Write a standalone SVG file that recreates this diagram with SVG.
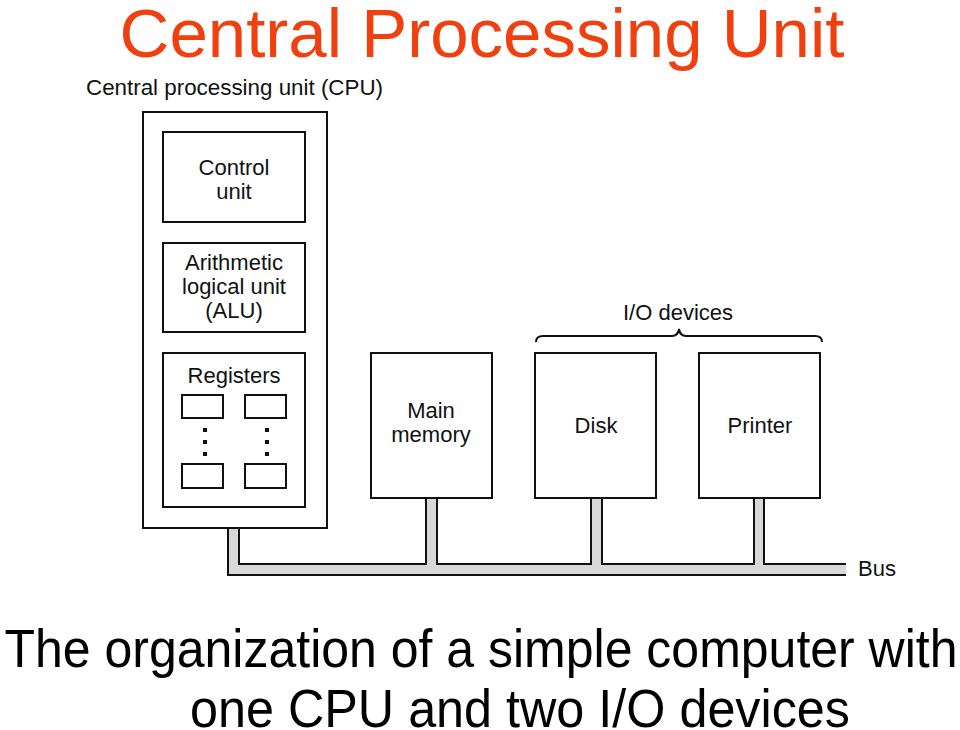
<svg xmlns="http://www.w3.org/2000/svg" width="960" height="730" viewBox="0 0 960 730">
<style>
.box{fill:#fff;stroke:#111;stroke-width:2}
.t{font-family:"Liberation Sans",Arial,sans-serif;fill:#111;font-size:22px;text-anchor:middle}
.ln{fill:none;stroke:#111;stroke-width:2}
.dot{fill:#111}
</style>
<rect width="960" height="730" fill="#fff"/>
<text x="482" y="57" style="font-family:'Liberation Sans',Arial,sans-serif;font-size:69px;fill:#f0400f;text-anchor:middle">Central Processing Unit</text>
<text x="86" y="95" class="t" style="text-anchor:start" textLength="297" lengthAdjust="spacingAndGlyphs">Central processing unit (CPU)</text>

<g id="connectors">
<path d="M228,527 L228,575 L846,575 L846,564 L764,564 L764,498 L754,498 L754,564 L602,564 L602,498 L591,498 L591,564 L437,564 L437,498 L426,498 L426,564 L239,564 L239,527 Z" fill="#d8d8d8"/>
<path class="ln" d="M228,528 L228,575 L846,575"/>
<path class="ln" d="M239,528 L239,564 L426,564 L426,498"/>
<path class="ln" d="M437,498 L437,564 L591,564 L591,498"/>
<path class="ln" d="M602,498 L602,564 L754,564 L754,498"/>
<path class="ln" d="M764,498 L764,564 L846,564"/>
</g>
<text x="858" y="576" class="t" style="text-anchor:start">Bus</text>

<g id="cpu">
<rect class="box" x="143" y="112" width="184" height="416"/>
</g>
<g id="control-unit">
<rect class="box" x="163" y="132" width="142" height="90"/>
<text x="234" y="175" class="t">Control</text>
<text x="234" y="199" class="t">unit</text>
</g>
<g id="alu">
<rect class="box" x="163" y="243" width="142" height="89"/>
<text x="234" y="270" class="t">Arithmetic</text>
<text x="234" y="294" class="t">logical unit</text>
<text x="234" y="318" class="t">(ALU)</text>
</g>
<g id="registers">
<rect class="box" x="163" y="353" width="142" height="154"/>
<text x="234" y="383" class="t">Registers</text>
<rect class="box" x="182" y="395" width="41" height="23"/>
<rect class="box" x="245" y="395" width="41" height="23"/>
<rect class="box" x="182" y="464" width="41" height="24"/>
<rect class="box" x="245" y="464" width="41" height="24"/>
<rect class="dot" x="203" y="428" width="4" height="4"/>
<rect class="dot" x="203" y="440" width="4" height="4"/>
<rect class="dot" x="203" y="452" width="4" height="4"/>
<rect class="dot" x="265" y="428" width="4" height="4"/>
<rect class="dot" x="265" y="440" width="4" height="4"/>
<rect class="dot" x="265" y="452" width="4" height="4"/>
</g>
<g id="main-memory">
<rect class="box" x="371" y="353" width="121" height="145"/>
<text x="431" y="418" class="t">Main</text>
<text x="431" y="442" class="t">memory</text>
</g>
<g id="disk">
<rect class="box" x="535" y="353" width="121" height="145"/>
<text x="596" y="433" class="t">Disk</text>
</g>
<g id="printer">
<rect class="box" x="699" y="353" width="121" height="145"/>
<text x="760" y="433" class="t">Printer</text>
</g>
<g id="io-devices">
<path class="ln" d="M536,342 Q536,336 543,336 L672,336 Q678,336 679,329 Q680,336 686,336 L815,336 Q822,336 822,342"/>
<text x="678" y="320" class="t">I/O devices</text>
</g>

<text x="481" y="667" style="font-family:'Liberation Sans',Arial,sans-serif;font-size:54px;fill:#000;text-anchor:middle" textLength="953" lengthAdjust="spacingAndGlyphs">The organization of a simple computer with</text>
<text x="520" y="727" style="font-family:'Liberation Sans',Arial,sans-serif;font-size:54px;fill:#000;text-anchor:middle" textLength="660" lengthAdjust="spacingAndGlyphs">one CPU and two I/O devices</text>
</svg>
